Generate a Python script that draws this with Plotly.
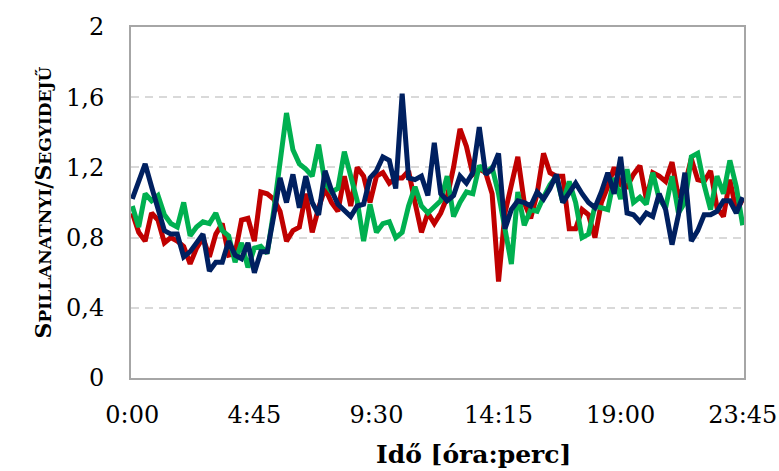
import plotly.graph_objects as go

# 15-minute time slots over one day (96 samples)
TIMES = [f"{m // 60}:{m % 60:02d}" for m in range(0, 24 * 60, 15)]
TICK_LABELS = ["0:00", "4:45", "9:30", "14:15", "19:00", "23:45"]
Y_TICKS = [0, 0.4, 0.8, 1.2, 1.6, 2]
Y_TICK_TEXT = ["0", "0,4", "0,8", "1,2", "1,6", "2"]

RED = [0.94, 0.83, 0.78, 0.94, 0.90, 0.77, 0.80, 0.78, 0.75, 0.65,
       0.74, 0.80, 0.69, 0.82, 0.88, 0.70, 0.71, 0.90, 0.91, 0.78,
       1.06, 1.05, 1.02, 0.95, 0.78, 0.84, 0.86, 1.05, 0.83, 0.97,
       1.08, 1.00, 0.95, 1.15, 0.98, 1.20, 1.15, 1.00, 1.15, 1.17,
       1.11, 1.14, 1.14, 1.18, 1.00, 0.83, 0.94, 0.88, 0.94, 1.03,
       1.20, 1.42, 1.32, 1.16, 1.19, 1.17, 1.05, 0.55, 0.94, 1.09,
       1.26, 1.00, 0.91, 1.05, 1.28, 1.17, 1.15, 1.15, 0.85, 0.85,
       0.96, 0.93, 0.80, 1.00, 1.09, 1.20, 1.10, 1.09, 1.16, 1.21,
       1.02, 1.17, 1.15, 1.12, 1.23, 1.03, 1.10, 1.25, 1.13, 1.12,
       1.18, 0.97, 0.92, 1.13, 0.95, 1.02]

GREEN = [0.98, 0.86, 1.05, 1.01, 1.04, 0.93, 0.88, 0.86, 1.00, 0.81,
         0.86, 0.89, 0.88, 0.94, 0.84, 0.81, 0.66, 0.77, 0.63, 0.74,
         0.75, 0.71, 0.95, 1.22, 1.51, 1.30, 1.22, 1.19, 1.15, 1.33,
         1.11, 1.06, 1.08, 1.29, 1.15, 1.01, 0.78, 0.99, 0.83, 0.88,
         0.89, 0.80, 0.83, 0.98, 1.09, 0.98, 0.94, 0.98, 1.01, 1.15,
         0.92, 1.00, 1.06, 1.05, 1.21, 1.17, 1.20, 1.05, 0.86, 0.65,
         1.06, 0.87, 0.96, 0.95, 1.03, 1.10, 1.15, 1.00, 1.12, 1.00,
         0.80, 0.82, 0.98, 0.97, 0.96, 1.14, 1.02, 1.19, 1.00, 1.03,
         0.99, 1.17, 1.02, 0.97, 1.15, 0.94, 1.00, 1.26, 1.28, 1.10,
         0.96, 1.15, 1.05, 1.24, 1.09, 0.87]

BLUE = [1.02, 1.12, 1.22, 1.09, 0.96, 0.84, 0.82, 0.82, 0.69, 0.72,
        0.77, 0.82, 0.61, 0.66, 0.66, 0.78, 0.70, 0.68, 0.77, 0.60,
        0.72, 0.72, 0.92, 1.14, 1.00, 1.16, 0.97, 1.15, 1.00, 0.93,
        1.18, 1.07, 0.99, 0.95, 0.92, 0.98, 0.99, 1.14, 1.18, 1.26,
        1.24, 1.08, 1.62, 1.14, 1.13, 1.15, 1.04, 1.34, 1.05, 1.01,
        1.04, 1.15, 1.11, 1.17, 1.43, 1.16, 1.19, 1.28, 0.85, 0.96,
        1.01, 1.00, 0.98, 1.06, 1.02, 1.08, 1.16, 1.00, 1.06, 1.11,
        1.05, 1.00, 0.97, 1.06, 1.17, 1.05, 1.26, 0.94, 0.93, 0.89,
        0.94, 0.92, 1.05, 0.96, 0.76, 0.93, 1.17, 0.78, 0.84, 0.93,
        0.93, 0.95, 1.01, 1.01, 0.94, 1.03]

SERIES = [("#C00000", RED), ("#00B050", GREEN), ("#002060", BLUE)]

FONT = "DejaVu Serif"

fig = go.Figure()
for color, values in SERIES:
    fig.add_trace(go.Scatter(
        x=TIMES, y=values, mode="lines",
        line=dict(color=color, width=5, shape="linear"),
        hoverinfo="skip", showlegend=False,
    ))

small = "font-size:17px"
y_title = (f"S<span style='{small}'>PILLANATNYI</span>/"
           f"S<span style='{small}'>EGYIDEJŰ</span>")

fig.update_layout(
    width=779, height=471,
    margin=dict(l=131, r=35, t=27, b=93),
    paper_bgcolor="white", plot_bgcolor="white",
    font=dict(family=FONT, color="black", size=24),
    xaxis=dict(
        type="category",
        range=[-0.2, 95.2],
        automargin=False,
        tickmode="array", tickvals=TICK_LABELS, ticktext=TICK_LABELS,
        showgrid=False, zeroline=False,
        showline=True, linecolor="#A6A6A6", linewidth=2, mirror=True,
        ticks="outside", ticklen=14, tickcolor="rgba(0,0,0,0)",
        tickfont=dict(family=FONT, size=24),
    ),
    yaxis=dict(
        range=[0, 2],
        automargin=False,
        tickmode="array", tickvals=Y_TICKS, ticktext=Y_TICK_TEXT,
        showgrid=True, gridcolor="#D9D9D9", gridwidth=1.5, griddash="8px,6px",
        zeroline=False,
        showline=True, linecolor="#A6A6A6", linewidth=2, mirror=True,
        ticks="outside", ticklen=20, tickcolor="rgba(0,0,0,0)",
        tickfont=dict(family=FONT, size=24),
        title=dict(text=f"<b>{y_title}</b>", standoff=8,
                   font=dict(family=FONT, size=22)),
    ),
    annotations=[dict(
        text="<b>Idő [óra:perc]</b>",
        xref="paper", yref="paper", x=0.558, y=-0.219,
        xanchor="center", yanchor="middle", showarrow=False,
        font=dict(family=FONT, size=25, color="black"),
    )],
)

fig.write_html("out.html", config={"displayModeBar": False})
